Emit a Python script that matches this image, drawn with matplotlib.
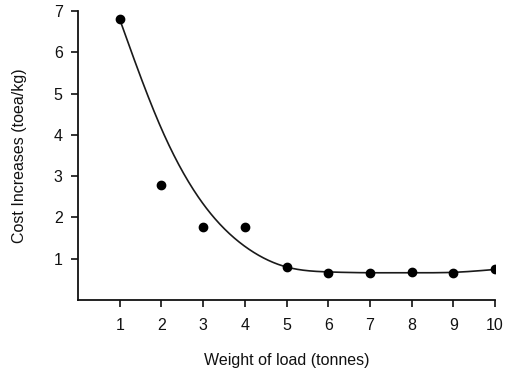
import numpy as np
import matplotlib
matplotlib.use("Agg")
import matplotlib.pyplot as plt

# Observed data points
weight = [1, 2, 3, 4, 5, 6, 7, 8, 9, 10]
cost = [6.8, 2.78, 1.78, 1.78, 0.79, 0.66, 0.65, 0.67, 0.65, 0.74]

# Fitted curve, values at knot positions
curve_x = [1, 2, 3, 4, 5, 6, 7, 8, 9, 10]
curve_y = [6.8, 4.15, 2.33, 1.30, 0.80, 0.68, 0.66, 0.66, 0.67, 0.74]

x_ticks = [1, 2, 3, 4, 5, 6, 7, 8, 9, 10]
y_ticks = [1, 2, 3, 4, 5, 6, 7]

plt.rcParams['font.family'] = ['Liberation Sans', 'DejaVu Sans']


def natural_spline(xk, yk, n=60):
    """Render a smooth natural cubic spline through the knots."""
    xk = np.asarray(xk, float)
    yk = np.asarray(yk, float)
    k = len(xk)
    h = np.diff(xk)
    A = np.zeros((k, k))
    r = np.zeros(k)
    A[0, 0] = A[-1, -1] = 1.0
    for i in range(1, k - 1):
        A[i, i - 1] = h[i - 1]
        A[i, i] = 2 * (h[i - 1] + h[i])
        A[i, i + 1] = h[i]
        r[i] = 6 * ((yk[i + 1] - yk[i]) / h[i] - (yk[i] - yk[i - 1]) / h[i - 1])
    M = np.linalg.solve(A, r)
    xs, ys = [], []
    for i in range(k - 1):
        t = np.linspace(xk[i], xk[i + 1], n, endpoint=False)
        a = xk[i + 1] - t
        b = t - xk[i]
        y = (M[i] * a**3 + M[i + 1] * b**3) / (6 * h[i]) \
            + (yk[i] / h[i] - M[i] * h[i] / 6) * a \
            + (yk[i + 1] / h[i] - M[i + 1] * h[i] / 6) * b
        xs.append(t)
        ys.append(y)
    xs.append([xk[-1]])
    ys.append([yk[-1]])
    return np.concatenate(xs), np.concatenate(ys)


fig = plt.figure(figsize=(5.12, 3.71), dpi=100)
ax = fig.add_axes([78 / 512, 1 - 300 / 371, (495 - 78) / 512, (300 - 11) / 371])

sx, sy = natural_spline(curve_x, curve_y)
ax.plot(sx, sy, color='#1a1a1a', lw=1.2, zorder=2)
ax.plot(weight, cost, 'o', color='black', ms=6, zorder=3)

ax.set_xlim(0, 10)
ax.set_ylim(0, 7)
ax.set_xticks(x_ticks)
ax.set_yticks(y_ticks)
ax.set_xticklabels([str(v) for v in x_ticks])
ax.set_yticklabels([str(v) for v in y_ticks])
ax.spines['top'].set_visible(False)
ax.spines['right'].set_visible(False)
for s in ('left', 'bottom'):
    ax.spines[s].set_linewidth(1.3)
    ax.spines[s].set_color('#111111')
ax.tick_params(axis='both', direction='out', length=5, width=1.2, color='#111111',
               labelsize=11.5, labelcolor='#111111')
ax.tick_params(axis='x', pad=8)
ax.tick_params(axis='y', pad=6)

ax.set_xlabel('Weight of load (tonnes)', fontsize=11.5, labelpad=14, color='#111111')
ax.set_ylabel('Cost Increases (toea/kg)', fontsize=11.5, labelpad=19, color='#111111')

fig.savefig('out.png', dpi=100)
